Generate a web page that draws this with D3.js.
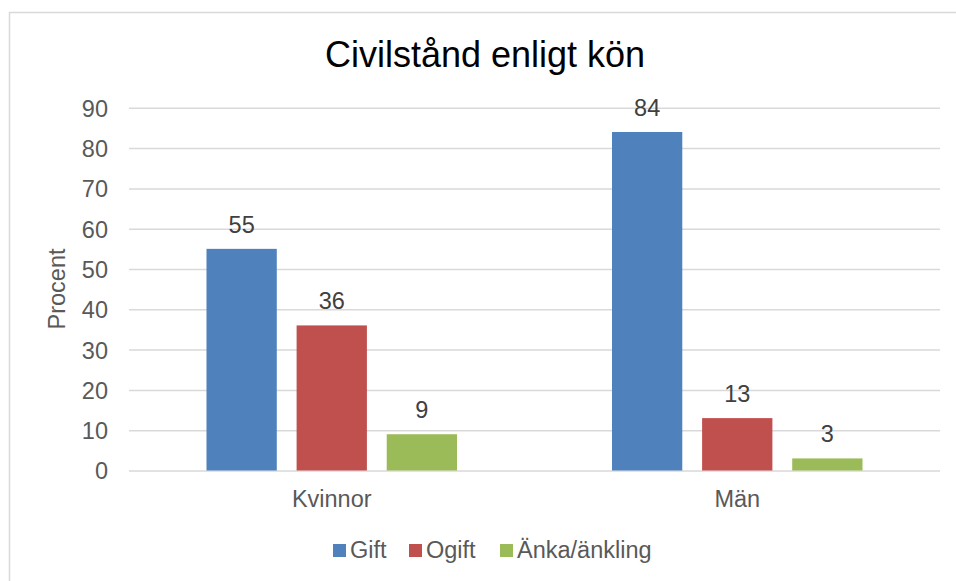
<!DOCTYPE html>
<html>
<head>
<meta charset="utf-8">
<script src="https://cdn.jsdelivr.net/npm/d3@7"></script>
<style>
  body { margin: 0; background: #fff; }
  svg { display: block; font-family: "Liberation Sans", Arial, sans-serif; }
</style>
</head>
<body>
<svg width="956" height="581"></svg>
<script>
// data
const categories = ["Kvinnor", "Män"];
const series = ["Gift", "Ogift", "Änka/änkling"];
const colors = ["#4f81bd", "#c0504d", "#9bbb59"];
const gift = [55, 84];
const ogift = [36, 13];
const anka = [9, 3];
const yTicks = [0, 10, 20, 30, 40, 50, 60, 70, 80, 90];

const values = [gift, ogift, anka];

let svg = d3.select("svg");

// ram runt diagrammet
svg.append("rect")
    .attr("x", 9.5).attr("y", 12.5)
    .attr("width", 980).attr("height", 620)
    .attr("fill", "white")
    .attr("stroke", "#d9d9d9")
    .attr("stroke-width", 1.5);

const plotLeft = 129, plotRight = 940, plotTop = 107.8, plotBottom = 470.5;

let x = d3.scaleBand().domain(categories).range([plotLeft, plotRight]);
let xs = d3.scaleBand().domain(series).range([0, x.bandwidth()])
    .paddingInner(0.22).paddingOuter(0.86);
let y = d3.scaleLinear().domain([0, 90]).range([plotBottom, plotTop]);
let color = d3.scaleOrdinal().domain(series).range(colors);

// rutnät + y-axel
let gy = svg.append("g")
    .attr("transform", `translate(${plotLeft},0)`)
    .call(d3.axisLeft(y).tickValues(yTicks).tickSize(-(plotRight - plotLeft)).tickPadding(21));
gy.select(".domain").remove();
gy.selectAll("line").attr("stroke", "#d9d9d9").attr("stroke-width", 1.5);
gy.selectAll("text")
    .attr("fill", "#595959")
    .style("font-size", "23.5px")
    .attr("dy", "0.36em");

// staplar
let groups = svg.selectAll(".grupp")
    .data(series)
    .enter().append("g")
    .attr("class", "grupp");

groups.each(function (s, si) {
    let g = d3.select(this);
    let d = categories.map((c, ci) => ({ cat: c, s: s, v: values[si][ci] }));
    g.selectAll("rect")
        .data(d)
        .enter().append("rect")
        .attr("x", e => x(e.cat) + xs(e.s))
        .attr("y", e => y(e.v))
        .attr("width", xs.bandwidth())
        .attr("height", e => y(0) - y(e.v))
        .attr("fill", color(s));
    g.selectAll("text")
        .data(d)
        .enter().append("text")
        .attr("x", e => x(e.cat) + xs(e.s) + xs.bandwidth() / 2)
        .attr("y", e => y(e.v) - 16)
        .attr("text-anchor", "middle")
        .attr("fill", "#404040")
        .style("font-size", "23.5px")
        .text(e => e.v);
});

// x-axel
let gx = svg.append("g")
    .attr("transform", `translate(0,${plotBottom})`)
    .call(d3.axisBottom(x).tickSize(0).tickPadding(20));
gx.select(".domain").remove();
gx.selectAll("text")
    .attr("fill", "#595959")
    .style("font-size", "23.5px");

// titel
svg.append("text")
    .attr("x", 485).attr("y", 67)
    .attr("text-anchor", "middle")
    .attr("fill", "#000")
    .style("font-size", "36px")
    .text("Civilstånd enligt kön");

// y-axelns titel
svg.append("text")
    .attr("transform", "translate(65,289) rotate(-90)")
    .attr("text-anchor", "middle")
    .attr("fill", "#595959")
    .style("font-size", "23.5px")
    .text("Procent");

// legend
const legendX = [333, 409, 500];
let legend = svg.selectAll(".legend")
    .data(series)
    .enter().append("g")
    .attr("class", "legend")
    .attr("transform", (d, i) => `translate(${legendX[i]},544)`);
legend.append("rect")
    .attr("width", 13).attr("height", 13)
    .attr("fill", d => color(d));
legend.append("text")
    .attr("x", 17).attr("y", 14)
    .attr("fill", "#595959")
    .style("font-size", "23.5px")
    .text(d => d);
</script>
</body>
</html>
